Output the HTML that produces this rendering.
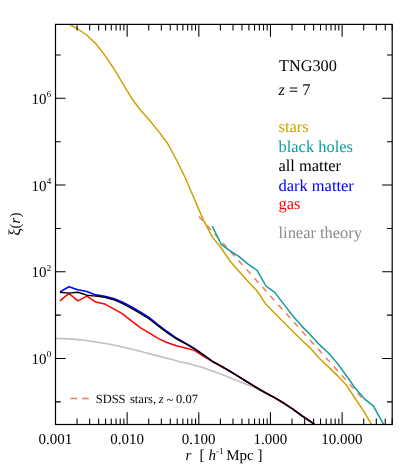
<!DOCTYPE html><html lang="en"><head><title>Correlation functions TNG300 z=7</title><meta charset="utf-8"><style>html,body{margin:0;padding:0;background:#fff}svg{display:block;will-change:transform}text{font-family:"Liberation Serif",serif;fill:#000;text-rendering:geometricPrecision}</style></head><body>
<svg width="415" height="475" viewBox="0 0 415 475">
<rect width="415" height="475" fill="#fff"/>
<defs><clipPath id="c"><rect x="55.5" y="24.4" width="336.70" height="400.10"/></clipPath></defs>
<g clip-path="url(#c)" fill="none" stroke-linejoin="round" stroke-linecap="butt">
<path d="M55.50,338.45 L62.00,338.60 L69.50,338.90 L76.00,339.40 L83.90,340.20 L91.00,341.20 L98.40,342.40 L104.00,343.30 L110.00,344.30 L118.00,346.00 L126.90,348.00 L135.00,350.00 L143.70,352.30 L152.00,354.40 L160.60,356.60 L170.00,359.00 L180.00,361.70 L190.00,363.90 L203.30,367.80 L212.30,370.90 L221.30,374.20 L230.20,377.80 L239.20,381.40 L248.10,384.90 L257.10,389.10 L266.10,393.30 L275.00,397.90 L284.00,403.30 L292.90,409.20 L301.90,415.80 L310.90,421.80 L319.80,428.40" stroke="#c0c0c0" stroke-width="1.6"/>
<path d="M59.98,291.90 L68.94,286.81 L77.89,289.70 L86.85,291.49 L95.81,294.90 L104.76,296.19 L113.72,298.48 L122.68,302.19 L131.63,306.96 L140.59,312.09 L149.55,317.77 L158.50,325.02 L167.46,331.77 L176.42,338.04 L185.37,343.08 L194.33,348.36 L203.29,354.69 L212.24,361.26 L221.20,366.24 L230.16,371.47 L239.11,376.85 L248.07,382.48 L257.03,387.86 L265.98,393.03 L274.94,397.87 L283.90,403.24 L292.85,409.17 L301.81,415.73 L310.77,421.71 L319.72,428.34" stroke="#0000ff" stroke-width="1.6"/>
<path d="M59.98,300.90 L68.94,293.32 L77.89,300.89 L86.85,296.13 L95.81,302.10 L104.76,304.09 L113.72,308.86 L122.68,313.89 L131.63,321.05 L140.59,327.79 L149.55,333.07 L158.50,338.64 L167.46,342.78 L176.42,345.77 L185.37,347.99 L194.33,350.38 L203.29,356.09 L212.24,361.47 L221.20,366.25 L230.16,371.47 L239.11,376.85 L248.07,382.48 L257.03,387.86 L265.98,393.03 L274.94,397.87 L283.90,403.24 L292.85,409.17 L301.81,415.73 L310.77,421.71 L319.72,428.34" stroke="#ff0000" stroke-width="1.5"/>
<path d="M59.98,292.20 L68.94,293.10 L77.89,292.20 L86.85,295.18 L95.81,296.10 L104.76,297.29 L113.72,299.68 L122.68,303.69 L131.63,308.46 L140.59,313.59 L149.55,319.07 L158.50,326.22 L167.46,332.87 L176.42,338.84 L185.37,343.69 L194.33,348.76 L203.29,354.89 L212.24,361.26 L221.20,366.24 L230.16,371.47 L239.11,376.85 L248.07,382.48 L257.03,387.86 L265.98,393.03 L274.94,397.87 L283.90,403.24 L292.85,409.17 L301.81,415.73 L310.77,421.71 L319.72,428.34" stroke="#000" stroke-width="1.45"/>
<path d="M198.90,216.40 L361.70,397.60" stroke="#ee7a55" stroke-width="1.45" stroke-dasharray="6.00 5.87"/>
<path d="M212.24,226.00 L221.20,244.29 L230.16,250.77 L239.11,256.64 L248.07,264.08 L257.03,270.45 L265.98,286.00 L274.94,292.66 L283.90,304.37 L292.85,315.94 L301.81,326.10 L310.77,335.17 L319.72,344.92 L328.68,353.29 L337.64,363.63 L346.59,375.95 L355.55,388.59 L364.51,398.80 L373.46,406.09 L382.42,422.36 L391.38,437.79" stroke="#0f9c9e" stroke-width="1.5"/>
<path d="M68.94,24.00 L77.89,29.00 L86.85,35.26 L95.81,43.61 L104.76,55.15 L113.72,68.48 L122.68,83.36 L131.63,98.19 L140.59,110.19 L149.55,120.34 L158.50,131.38 L167.46,143.25 L176.42,159.75 L185.37,178.04 L194.33,199.04 L203.29,219.67 L212.24,236.89 L221.20,247.98 L230.16,261.24 L239.11,271.40 L248.07,281.57 L257.03,290.73 L265.98,304.32 L274.94,313.54 L283.90,322.50 L292.85,331.45 L301.81,340.31 L310.77,348.58 L319.72,358.81 L328.68,367.09 L337.64,375.84 L346.59,385.29 L355.55,398.97 L364.51,412.36 L373.46,427.96" stroke="#cba200" stroke-width="1.5"/>
</g>
<path d="M77.07,24.4v6.1M77.07,424.5v-6.1M89.69,24.4v6.1M89.69,424.5v-6.1M98.64,24.4v6.1M98.64,424.5v-6.1M105.58,24.4v6.1M105.58,424.5v-6.1M111.26,24.4v6.1M111.26,424.5v-6.1M116.05,24.4v6.1M116.05,424.5v-6.1M120.21,24.4v6.1M120.21,424.5v-6.1M123.88,24.4v6.1M123.88,424.5v-6.1M127.15,24.4v12.3M127.15,424.5v-12.3M148.72,24.4v6.1M148.72,424.5v-6.1M161.34,24.4v6.1M161.34,424.5v-6.1M170.29,24.4v6.1M170.29,424.5v-6.1M177.24,24.4v6.1M177.24,424.5v-6.1M182.91,24.4v6.1M182.91,424.5v-6.1M187.71,24.4v6.1M187.71,424.5v-6.1M191.86,24.4v6.1M191.86,424.5v-6.1M195.53,24.4v6.1M195.53,424.5v-6.1M198.81,24.4v12.3M198.81,424.5v-12.3M220.38,24.4v6.1M220.38,424.5v-6.1M233.00,24.4v6.1M233.00,424.5v-6.1M241.95,24.4v6.1M241.95,424.5v-6.1M248.89,24.4v6.1M248.89,424.5v-6.1M254.57,24.4v6.1M254.57,424.5v-6.1M259.36,24.4v6.1M259.36,424.5v-6.1M263.52,24.4v6.1M263.52,424.5v-6.1M267.18,24.4v6.1M267.18,424.5v-6.1M270.46,24.4v12.3M270.46,424.5v-12.3M292.03,24.4v6.1M292.03,424.5v-6.1M304.65,24.4v6.1M304.65,424.5v-6.1M313.60,24.4v6.1M313.60,424.5v-6.1M320.55,24.4v6.1M320.55,424.5v-6.1M326.22,24.4v6.1M326.22,424.5v-6.1M331.02,24.4v6.1M331.02,424.5v-6.1M335.17,24.4v6.1M335.17,424.5v-6.1M338.84,24.4v6.1M338.84,424.5v-6.1M342.12,24.4v12.3M342.12,424.5v-12.3M363.69,24.4v6.1M363.69,424.5v-6.1M376.30,24.4v6.1M376.30,424.5v-6.1M385.26,24.4v6.1M385.26,424.5v-6.1M392.20,24.4v6.1M392.20,424.5v-6.1M55.5,401.86h5.2M392.2,401.86h-5.2M55.5,358.50h10.1M392.2,358.50h-10.1M55.5,315.14h5.2M392.2,315.14h-5.2M55.5,271.78h10.1M392.2,271.78h-10.1M55.5,228.42h5.2M392.2,228.42h-5.2M55.5,185.06h10.1M392.2,185.06h-10.1M55.5,141.70h5.2M392.2,141.70h-5.2M55.5,98.34h10.1M392.2,98.34h-10.1M55.5,54.98h5.2M392.2,54.98h-5.2" stroke="#000" stroke-width="1.05" fill="none"/>
<rect x="55.5" y="24.4" width="336.70" height="400.10" fill="none" stroke="#000" stroke-width="1.2"/>
<text x="55.3" y="443.6" font-size="15" text-anchor="middle">0.001</text>
<text x="127.0" y="443.6" font-size="15" text-anchor="middle">0.010</text>
<text x="198.6" y="443.6" font-size="15" text-anchor="middle">0.100</text>
<text x="270.3" y="443.6" font-size="15" text-anchor="middle">1.000</text>
<text x="341.9" y="443.6" font-size="15" text-anchor="middle">10.000</text>
<text x="46.6" y="363.9" font-size="15" text-anchor="end">10</text><text x="46.8" y="357.3" font-size="9">0</text>
<text x="46.6" y="277.2" font-size="15" text-anchor="end">10</text><text x="46.8" y="270.6" font-size="9">2</text>
<text x="46.6" y="190.5" font-size="15" text-anchor="end">10</text><text x="46.8" y="183.9" font-size="9">4</text>
<text x="46.6" y="103.7" font-size="15" text-anchor="end">10</text><text x="46.8" y="97.1" font-size="9">6</text>
<text x="185.5" y="459.8" font-size="15"><tspan font-style="italic">r</tspan><tspan x="199.5">[</tspan><tspan x="208.5" font-style="italic">h</tspan><tspan dy="-6" font-size="9">-1</tspan><tspan dy="6" x="226.2">Mpc</tspan><tspan x="257.6">]</tspan></text>
<text transform="translate(19.5,235.8) rotate(-90)" font-size="15"><tspan font-size="16.5">ξ</tspan>(<tspan font-style="italic">r</tspan>)</text>
<text x="279" y="71" font-size="16.25">TNG300</text>
<text x="278.6" y="95" font-size="16.3"><tspan font-style="italic">z</tspan> = 7</text>
<text x="278.5" y="132.2" font-size="16.45" style="fill:#cba200">stars</text>
<text x="278.5" y="151.6" font-size="16.45" style="fill:#0f9c9e">black holes</text>
<text x="278.5" y="170.8" font-size="16.45" style="fill:#000">all matter</text>
<text x="278.5" y="190.5" font-size="16.45" style="fill:#0000ff">dark matter</text>
<text x="278.5" y="208.7" font-size="16.45" style="fill:#ff0000">gas</text>
<text x="278.5" y="238.3" font-size="16.45" style="fill:#8c8c8c">linear theory</text>
<path d="M70.5,398.5h6.8M82,398.5h6.8" stroke="#ee7a55" stroke-width="1.3" fill="none"/>
<text y="403.4" font-size="12.5"><tspan x="95.7">SDSS</tspan><tspan x="130.0">stars,</tspan><tspan x="158.8" font-style="italic">z</tspan><tspan x="166.6" dy="1.0">~</tspan><tspan x="176.1" dy="-1.0">0.07</tspan></text>
</svg></body></html>
